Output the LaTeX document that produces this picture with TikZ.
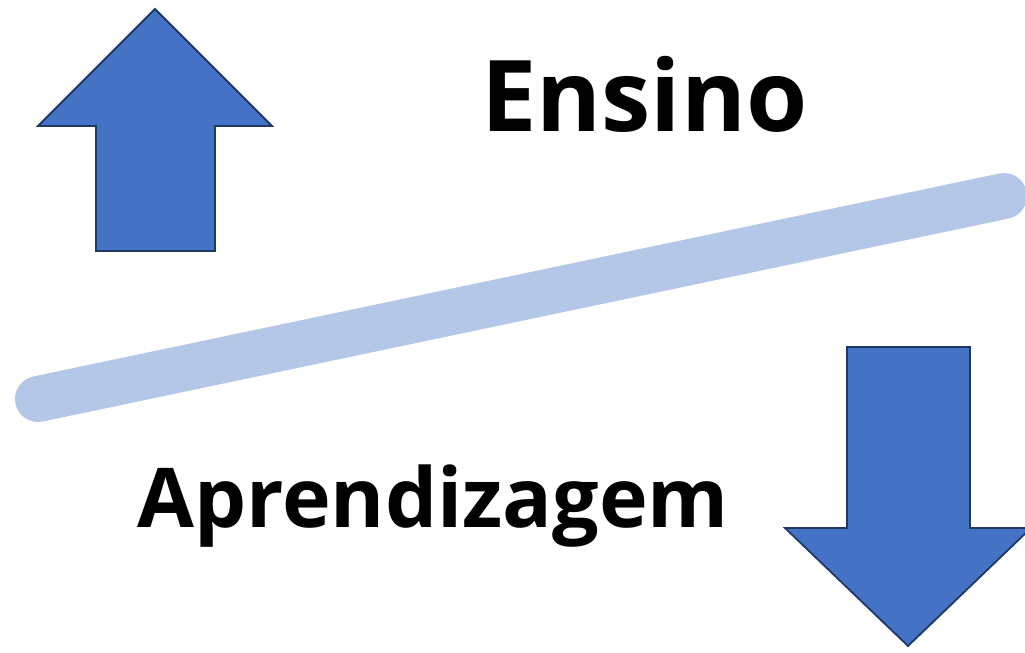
\documentclass[tikz,border=0pt]{standalone}
\usepackage{fontspec}
\setmainfont{Open Sans}
\definecolor{arrowfill}{HTML}{4472C4}
\definecolor{arrowline}{HTML}{1F3864}
\definecolor{barcol}{HTML}{B4C7E7}
\begin{document}
\begin{tikzpicture}[x=1pt,y=-1pt,
  bigarrow/.style={fill=arrowfill,draw=arrowline,line width=1.8pt,line join=miter},
  label/.style={font=\bfseries\fontsize{99}{106}\selectfont,inner sep=0pt,anchor=base west}]
\useasboundingbox (0,0) rectangle (1025,653);
\draw[barcol,line width=46pt,line cap=round] (38,399) coordinate (l1) -- (1004,196) coordinate (l2);
\draw[bigarrow] (155,9) -- (272,126) -- (215,126) -- (215,251) -- (96,251) -- (96,126) -- (38,126) -- cycle;
\begin{scope}
\clip (0,0) rectangle (1025,653);
\draw[bigarrow] (908,646) -- (1031,528) -- (970,528) -- (970,347) -- (847,347) -- (847,528) -- (785,528) -- cycle;
\end{scope}
\node[label] (ensino) at (481,131) {Ensino};
\node[label,font=\bfseries\fontsize{82.5}{88}\selectfont] (apr) at (137,527) {Aprendizagem};
\end{tikzpicture}
\end{document}
